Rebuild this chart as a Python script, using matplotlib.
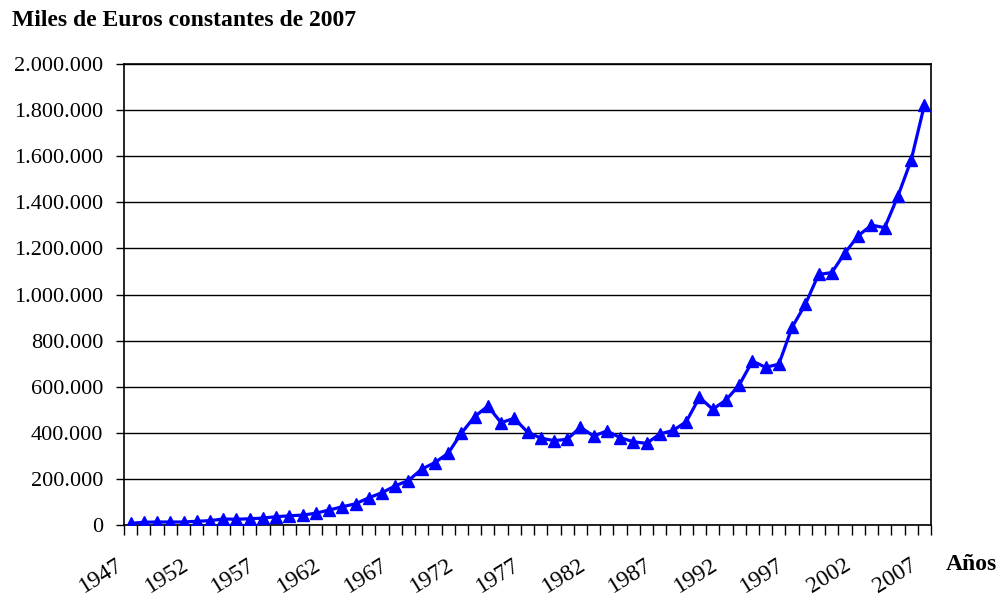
import numpy as np
import matplotlib
matplotlib.use("Agg")
import matplotlib.pyplot as plt
from matplotlib.ticker import FuncFormatter, MultipleLocator
from matplotlib.transforms import ScaledTranslation

plt.rcParams['font.family'] = ['Liberation Serif', 'DejaVu Serif']

years = list(range(1947, 2008))
valores = [7000, 12000, 13000, 13000, 13000, 16000, 19000, 26000, 25000, 27000,
           30000, 36000, 40000, 43000, 51000, 65000, 79000, 92000, 118000, 140000,
           170000, 193000, 242000, 271000, 311000, 398000, 470000, 516000, 444000, 463000,
           403000, 377000, 366000, 372000, 424000, 386000, 408000, 379000, 361000, 354000,
           395000, 410000, 448000, 554000, 502000, 542000, 607000, 711000, 684000, 698000,
           858000, 957000, 1087000, 1095000, 1181000, 1255000, 1301000, 1290000, 1427000, 1583000,
           1822000]
etiquetas = [str(a) for a in years[::5]]

fig = plt.figure(figsize=(10, 5.97), dpi=100)
ax = fig.add_axes([0.124, 0.1206, 0.807, 0.7722])

x = np.arange(len(years))
ax.plot(x, valores, color='#0000ff', lw=2.3, marker='^', ms=9, mec='#0000ff', zorder=3)

ax.set_xlim(-0.5, len(years) - 0.5)
ax.set_ylim(0, 2000000)
ax.yaxis.set_major_locator(MultipleLocator(200000))
ax.yaxis.set_major_formatter(FuncFormatter(lambda v, p: f"{int(v):,}".replace(",", ".")))
ax.grid(axis='y', color='black', lw=1)
ax.set_axisbelow(True)

ax.set_xticks(x[::5])
ax.set_xticklabels(etiquetas, rotation=32, ha='right', va='top', rotation_mode='anchor')
ax.set_xticks(np.arange(-0.5, len(years)), minor=True)
ax.tick_params(axis='x', which='major', length=0, pad=21, labelsize=17)
ax.tick_params(axis='x', which='minor', length=7, width=1, direction='out')
ax.tick_params(axis='y', length=6, width=1, direction='out', pad=9, labelsize=16)
off = ScaledTranslation(-11 / 72, 0, fig.dpi_scale_trans)
for lab in ax.get_xticklabels():
    lab.set_transform(lab.get_transform() + off)

for s in ax.spines.values():
    s.set_linewidth(1.2)
    s.set_color('black')

fig.text(0.012, 0.966, 'Miles de Euros constantes de 2007', fontsize=17, fontweight='bold', va='center')
fig.text(0.946, 0.054, 'Años', fontsize=17, fontweight='bold', va='center')

fig.savefig('out.png', dpi=100)
